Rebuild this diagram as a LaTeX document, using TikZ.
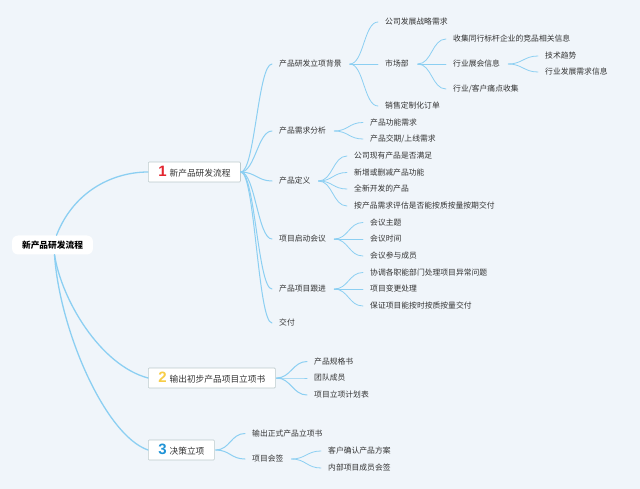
\documentclass[tikz,border=0pt]{standalone}
\usepackage{fontspec}
\setmainfont{Noto Sans CJK SC}
\newfontfamily\digfont{Liberation Sans}
\definecolor{bgc}{HTML}{F0F5FA}
\definecolor{lnc}{HTML}{8CCFF2}
\definecolor{txc}{HTML}{333333}
\definecolor{bxc}{HTML}{BCCACC}
\definecolor{cone}{HTML}{E3262F}
\definecolor{ctwo}{HTML}{F7CD47}
\definecolor{cthree}{HTML}{1F93D6}
\newcommand\dig[2]{{\digfont\bfseries\fontsize{15}{15}\selectfont\color{#1}#2}\hspace{3pt}}
\newcommand\lnk[4][0.8pt]{\draw[branch,line width=#1] ([xshift=#2]#3.east) .. controls +(14,0) and +(-14,0) .. ([xshift=-7pt]#4.west);}
\begin{document}
\begin{tikzpicture}[x=1pt,y=-1pt,
  lbl/.style={anchor=west,inner sep=0pt,font=\fontsize{7.8}{8}\selectfont,text=txc},
  topbox/.style={anchor=west,draw=bxc,fill=white,line width=0.6pt,rounded corners=1pt,
    minimum height=20pt,inner xsep=10pt,inner ysep=0pt,font=\fontsize{8.7}{9}\selectfont,text=txc},
  rootbox/.style={fill=white,rounded corners=6pt,minimum height=19pt,inner xsep=10pt,inner ysep=0pt,
    font=\fontsize{8.7}{9}\selectfont\bfseries,text=black},
  branch/.style={draw=lnc,line cap=round}]
\fill[bgc] (0,0) rectangle (640,489);
\useasboundingbox (0,0) rectangle (640,489);

\node[rootbox] (root) at (52.5,245) {新产品研发流程};
\node[topbox] (b1) at (148,172) {\dig{cone}{1}新产品研发流程};
\node[topbox] (b2) at (148,378) {\dig{ctwo}{2}输出初步产品项目立项书};
\node[topbox] (b3) at (148,450) {\dig{cthree}{3}决策立项};

\node[lbl] (a1) at (279,64) {产品研发立项背景};
\node[lbl] (a2) at (279,131) {产品需求分析};
\node[lbl] (a3) at (279,181) {产品定义};
\node[lbl] (a4) at (279,239) {项目启动会议};
\node[lbl] (a5) at (279,289) {产品项目跟进};
\node[lbl] (a6) at (279,323) {交付};

\node[lbl] (a11) at (385,22) {公司发展战略需求};
\node[lbl] (a12) at (385,64) {市场部};
\node[lbl] (a13) at (385,106) {销售定制化订单};
\node[lbl] (a121) at (453,39) {收集同行标杆企业的竞品相关信息};
\node[lbl] (a122) at (453,64) {行业展会信息};
\node[lbl] (a123) at (453,89) {行业/客户痛点收集};
\node[lbl] (a1221) at (545,56) {技术趋势};
\node[lbl] (a1222) at (545,72) {行业发展需求信息};

\node[lbl] (a21) at (370,122.5) {产品功能需求};
\node[lbl] (a22) at (370,139) {产品交期/上线需求};

\node[lbl] (a31) at (354,156) {公司现有产品是否满足};
\node[lbl] (a32) at (354,172.5) {新增或删减产品功能};
\node[lbl] (a33) at (354,189) {全新开发的产品};
\node[lbl] (a34) at (354,206) {按产品需求评估是否能按质按量按期交付};

\node[lbl] (a41) at (370,222.5) {会议主题};
\node[lbl] (a42) at (370,239) {会议时间};
\node[lbl] (a43) at (370,256) {会议参与成员};

\node[lbl] (a51) at (370,272.5) {协调各职能部门处理项目异常问题};
\node[lbl] (a52) at (370,289) {项目变更处理};
\node[lbl] (a53) at (370,306) {保证项目能按时按质按量交付};

\node[lbl] (b21) at (314,361.5) {产品规格书};
\node[lbl] (b22) at (314,378) {团队成员};
\node[lbl] (b23) at (314,395) {项目立项计划表};

\node[lbl] (b31) at (252,433.5) {输出正式产品立项书};
\node[lbl] (b32) at (252,459) {项目会签};
\node[lbl] (b321) at (328,451) {客户确认产品方案};
\node[lbl] (b322) at (328,468) {内部项目成员会签};

% root links
\draw[branch,line width=1.3pt] ([xshift=4pt]root.north) .. controls +(18,-46) and +(-33,0) .. (b1.west);
\draw[branch,line width=1.3pt] ([xshift=2pt]root.south) .. controls +(7,45) and +(-48,-13) .. (b2.west);
\draw[branch,line width=1.3pt] ([xshift=2pt]root.south) .. controls +(5,75) and +(-43,-15) .. (b3.west);

% box 1
\lnk[1pt]{0pt}{b1}{a1}
\lnk[1pt]{0pt}{b1}{a2}
\lnk[1pt]{0pt}{b1}{a3}
\lnk[1pt]{0pt}{b1}{a4}
\lnk[1pt]{0pt}{b1}{a5}
\lnk[1pt]{0pt}{b1}{a6}

\lnk{8pt}{a1}{a11}
\lnk{8pt}{a1}{a12}
\lnk{8pt}{a1}{a13}
\lnk{9pt}{a12}{a121}
\lnk{9pt}{a12}{a122}
\lnk{9pt}{a12}{a123}
\lnk{8pt}{a122}{a1221}
\lnk{8pt}{a122}{a1222}

\lnk{8pt}{a2}{a21}
\lnk{8pt}{a2}{a22}
\lnk{8pt}{a3}{a31}
\lnk{8pt}{a3}{a32}
\lnk{8pt}{a3}{a33}
\lnk{8pt}{a3}{a34}
\lnk{8pt}{a4}{a41}
\lnk{8pt}{a4}{a42}
\lnk{8pt}{a4}{a43}
\lnk{8pt}{a5}{a51}
\lnk{8pt}{a5}{a52}
\lnk{8pt}{a5}{a53}

% box 2, 3
\lnk[1pt]{1pt}{b2}{b21}
\lnk[1pt]{1pt}{b2}{b22}
\lnk[1pt]{1pt}{b2}{b23}
\lnk[1pt]{1pt}{b3}{b31}
\lnk[1pt]{1pt}{b3}{b32}
\lnk{8pt}{b32}{b321}
\lnk{8pt}{b32}{b322}
\end{tikzpicture}
\end{document}
